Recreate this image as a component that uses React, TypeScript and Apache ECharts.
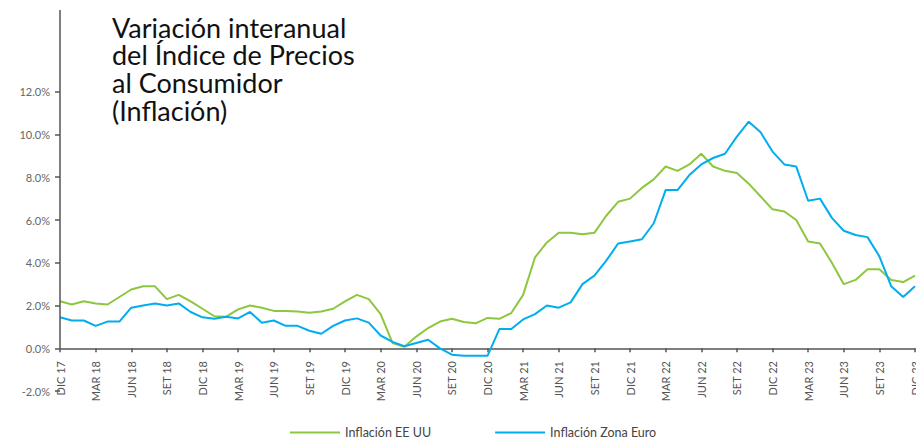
import React, { useEffect, useRef } from "react";
import * as echarts from "echarts";

const months = ["DIC", "ENE", "FEB", "MAR", "ABR", "MAY", "JUN", "JUL", "AGO", "SET", "OCT", "NOV"];
const cats: string[] = ["DIC 17"];
for (let yy = 18; yy <= 23; yy++) {
  for (let m = 1; m < 12; m++) cats.push(`${months[m]} ${yy}`);
  cats.push(`DIC ${yy}`);
}

const inflacionEEUU = [
  2.2, 2.05, 2.2, 2.1, 2.05, 2.4, 2.75, 2.9, 2.9, 2.3, 2.5, 2.2,
  1.85, 1.5, 1.48, 1.82, 2.0, 1.9, 1.75, 1.75, 1.72, 1.66, 1.72, 1.85,
  2.2, 2.5, 2.3, 1.6, 0.25, 0.07, 0.55, 0.95, 1.25, 1.38, 1.23, 1.17,
  1.42, 1.38, 1.65, 2.5, 4.25, 4.95, 5.4, 5.4, 5.33, 5.4, 6.2, 6.85,
  7.0, 7.5, 7.9, 8.5, 8.3, 8.6, 9.1, 8.5, 8.3, 8.2, 7.7, 7.1,
  6.5, 6.4, 6.0, 5.0, 4.9, 4.0, 3.0, 3.2, 3.7, 3.7, 3.2, 3.1,
  3.4,
];

const inflacionZonaEuro = [
  1.45, 1.3, 1.3, 1.05, 1.25, 1.25, 1.9, 2.0, 2.1, 2.0, 2.1, 1.7,
  1.45, 1.38, 1.48, 1.4, 1.7, 1.2, 1.3, 1.05, 1.05, 0.82, 0.68, 1.05,
  1.3, 1.4, 1.2, 0.6, 0.3, 0.1, 0.25, 0.4, 0.0, -0.3, -0.35, -0.35,
  -0.35, 0.9, 0.9, 1.35, 1.6, 2.0, 1.9, 2.15, 3.0, 3.4, 4.1, 4.9,
  5.0, 5.1, 5.85, 7.4, 7.4, 8.1, 8.6, 8.9, 9.1, 9.9, 10.6, 10.1,
  9.2, 8.6, 8.5, 6.9, 7.0, 6.1, 5.5, 5.3, 5.2, 4.3, 2.9, 2.4,
  2.9,
];

const titleLines = ["Variación interanual", "del Índice de Precios", "al Consumidor", "(Inflación)"];
const seriesNames = ["Inflación EE UU", "Inflación Zona Euro"];

export default function App() {
  const ref = useRef<HTMLDivElement>(null);
  useEffect(() => {
    if (!ref.current) return;
    const chart = echarts.init(ref.current, undefined, { renderer: "svg" });
    const font = "Lato, 'Open Sans', sans-serif";
    const titleGraphics = titleLines.map((t, i) => ({
      type: "text",
      left: 112,
      top: 13.5 + 27.8 * i,
      style: { text: t, fontSize: 27, lineHeight: 26, fontFamily: font, fill: "#111" },
    }));
    chart.setOption({
      animation: false,
      backgroundColor: "#fff",
      textStyle: { fontFamily: font },
      grid: { left: 60, right: 1, top: 91.7, bottom: 46.9, containLabel: false, outerBoundsMode: "none" },
      legend: {
        left: 285,
        top: 421,
        itemWidth: 50,
        itemHeight: 2,
        itemGap: 64,
        icon: "rect",
        textStyle: { fontSize: 12.5, lineHeight: 12, color: "#444", fontFamily: font },
        data: seriesNames,
      },
      xAxis: {
        type: "category",
        data: cats,
        boundaryGap: false,
        axisLine: { onZero: true, lineStyle: { color: "#555", width: 1.5 } },
        axisTick: { interval: 2, length: 4, lineStyle: { color: "#555", width: 1.5 } },
        axisLabel: { interval: 2, rotate: 90, margin: -30, fontSize: 11, color: "#555", fontFamily: font },
        splitLine: { show: false },
      },
      yAxis: {
        type: "value",
        min: -2,
        max: 12,
        interval: 2,
        axisLine: { show: false },
        axisTick: { show: true, length: 5, lineStyle: { color: "#555", width: 1.5 } },
        axisLabel: { margin: 10, fontSize: 11, color: "#666", fontFamily: font, formatter: (v: number) => v.toFixed(1) + "%" },
        splitLine: { show: false },
      },
      graphic: [
        {
          type: "line",
          shape: { x1: 60, y1: 10, x2: 60, y2: 348.3 },
          style: { stroke: "#555", lineWidth: 1.5 },
          z: 10,
        },
        ...titleGraphics,
      ],
      series: [
        {
          name: seriesNames[0],
          type: "line",
          data: inflacionEEUU,
          symbol: "none",
          lineStyle: { color: "#8DC63F", width: 2 },
          itemStyle: { color: "#8DC63F" },
        },
        {
          name: seriesNames[1],
          type: "line",
          data: inflacionZonaEuro,
          symbol: "none",
          lineStyle: { color: "#00AEEF", width: 2 },
          itemStyle: { color: "#00AEEF" },
        },
      ],
    });
    return () => chart.dispose();
  }, []);
  return <div ref={ref} style={{ position: "fixed", left: 0, top: 0, width: 916, height: 438 }} />;
}
